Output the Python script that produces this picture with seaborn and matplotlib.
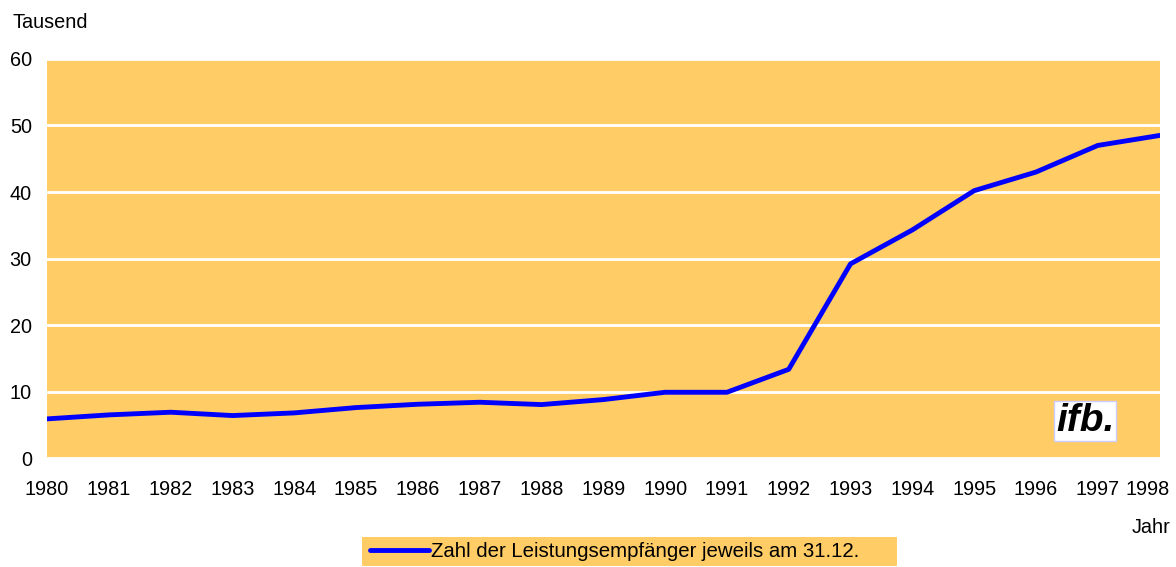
import pandas as pd
import matplotlib.pyplot as plt
import matplotlib.transforms as mtransforms
from matplotlib.patches import Rectangle
import seaborn as sns

# values (thousands)
years = list(range(1980, 1999))
empfaenger = [5.9, 6.5, 6.9, 6.4, 6.8, 7.6, 8.1, 8.4, 8.05, 8.8,
              9.9, 9.9, 13.35, 29.2, 34.3, 40.2, 43.0, 47.0, 48.5]
series_label = 'Zahl der Leistungsempfänger jeweils am 31.12.'

data = pd.DataFrame({'Jahr': years, 'Wert': empfaenger})

sns.set_style('white')
plt.rcParams['font.family'] = ['Liberation Sans', 'DejaVu Sans']
plt.rcParams['text.color'] = 'black'
plt.rcParams['xtick.color'] = 'black'
plt.rcParams['ytick.color'] = 'black'
fs = 14.3

fig = plt.figure(figsize=(11.76, 5.67), dpi=100)
ax = fig.add_axes([0.040, 0.192, 0.946, 0.704])
ax.set_facecolor('#FFCC66')

sns.lineplot(x='Jahr', y='Wert', data=data, color='#0000FF', linewidth=3.5,
             label=series_label, ax=ax, legend=False)

ax.set_xlim(1980, 1998)
ax.set_ylim(0, 60)
ax.set_xticks(years)
ax.set_yticks(range(0, 61, 10))
ax.tick_params(axis='both', labelsize=fs, length=0, labelcolor='black')
ax.tick_params(axis='x', pad=16)
ax.tick_params(axis='y', pad=11)
ax.grid(axis='y', color='white', linewidth=2)
ax.grid(axis='x', visible=False)
for s in ax.spines.values():
    s.set_visible(False)
ax.set_xlabel('')
ax.set_ylabel('')

# last year label is pulled in so it fits at the right edge
last = ax.get_xticklabels()[-1]
last.set_horizontalalignment('right')
last.set_transform(last.get_transform() +
                   mtransforms.ScaledTranslation(10 / 100, 0, fig.dpi_scale_trans))

fig.text(0.011, 0.961, 'Tausend', fontsize=fs, ha='left', va='center')
fig.text(0.995, 0.0705, 'Jahr', fontsize=fs, ha='right', va='center')

# ifb. logo
ax.text(1996.8, 5.6, 'ifb.', fontsize=28, fontweight='bold', fontstyle='italic',
        ha='center', va='center', color='black',
        bbox=dict(facecolor='white', edgecolor='#CCCCFF', pad=1.5))

# legend box
fig.patches.append(Rectangle((362 / 1176, 1 - 566 / 567), 535 / 1176, 29 / 567,
                             transform=fig.transFigure, facecolor='#FFCC66',
                             edgecolor='none', zorder=0))
handles, labels = ax.get_legend_handles_labels()
leg = fig.legend(handles, labels, loc='center left',
                 bbox_to_anchor=(370 / 1176, 1 - 551.5 / 567),
                 fontsize=14.7, frameon=False, handlelength=2.9,
                 handletextpad=0.1, borderpad=0, borderaxespad=0)
for t in leg.get_texts():
    t.set_color('black')

fig.savefig('out.png', dpi=100, facecolor='white')
